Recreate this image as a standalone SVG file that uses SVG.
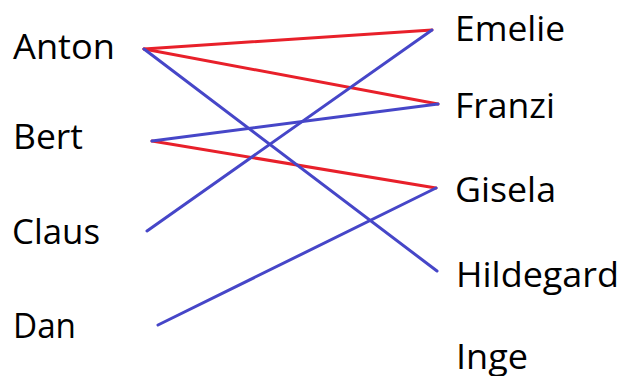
<svg xmlns="http://www.w3.org/2000/svg" width="622" height="376" viewBox="0 0 622 376">
<style>
text{font-family:"Open Sans","Liberation Sans",sans-serif;font-size:35px;fill:#000}
.r{stroke:#e8202a;stroke-width:3;fill:none;stroke-linecap:round}
.b{stroke:#4646c8;stroke-width:3;fill:none;stroke-linecap:round}
</style>
<rect width="622" height="376" fill="#fff"/>
<g id="connectors">
<line class="r" x1="144" y1="49" x2="432" y2="30"/>
<line class="r" x1="144" y1="49" x2="438" y2="104"/>
<line class="r" x1="152" y1="141" x2="436" y2="188"/>
<line class="b" x1="144" y1="49" x2="437" y2="271"/>
<line class="b" x1="152" y1="141" x2="438" y2="104"/>
<line class="b" x1="147" y1="231" x2="432" y2="30"/>
<line class="b" x1="158" y1="325" x2="436" y2="188"/>
</g>
<g id="anton"><text x="13" y="59" textLength="102" lengthAdjust="spacingAndGlyphs">Anton</text></g>
<g id="bert"><text x="13" y="149" textLength="70" lengthAdjust="spacingAndGlyphs">Bert</text></g>
<g id="claus"><text x="12" y="244" textLength="88" lengthAdjust="spacingAndGlyphs">Claus</text></g>
<g id="dan"><text x="13" y="338" textLength="63" lengthAdjust="spacingAndGlyphs">Dan</text></g>
<g id="emelie"><text x="455" y="41" textLength="110" lengthAdjust="spacingAndGlyphs">Emelie</text></g>
<g id="franzi"><text x="455" y="118" textLength="100" lengthAdjust="spacingAndGlyphs">Franzi</text></g>
<g id="gisela"><text x="455" y="202" textLength="101" lengthAdjust="spacingAndGlyphs">Gisela</text></g>
<g id="hildegard"><text x="456" y="287" textLength="163" lengthAdjust="spacingAndGlyphs">Hildegard</text></g>
<g id="inge"><text x="456" y="369" textLength="72" lengthAdjust="spacingAndGlyphs">Inge</text></g>
</svg>
